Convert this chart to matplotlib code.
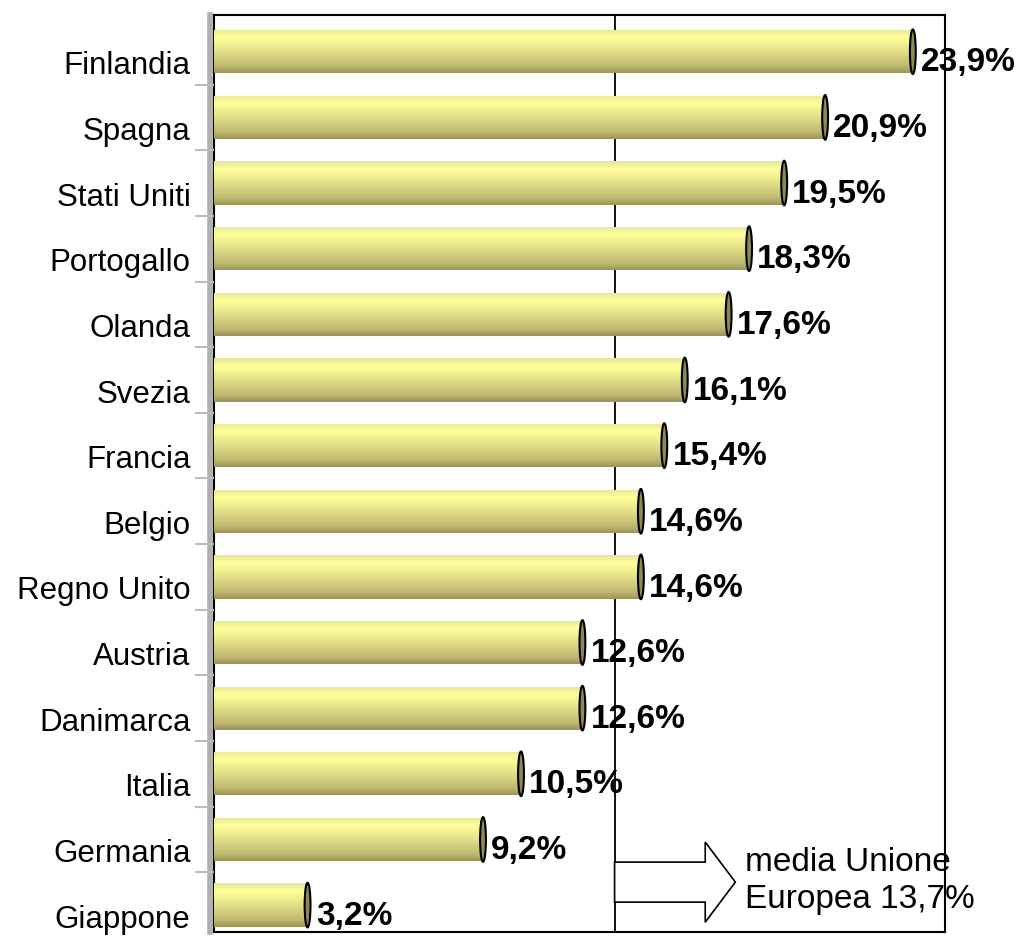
import numpy as np
import matplotlib
matplotlib.use("Agg")
import matplotlib.pyplot as plt
import matplotlib.patches as mpatches
from matplotlib.colors import LinearSegmentedColormap
from matplotlib.transforms import ScaledTranslation

plt.rcParams['font.family'] = ['Liberation Sans', 'DejaVu Sans']

countries = ["Finlandia", "Spagna", "Stati Uniti", "Portogallo", "Olanda", "Svezia",
             "Francia", "Belgio", "Regno Unito", "Austria", "Danimarca", "Italia",
             "Germania", "Giappone"]
values = [23.9, 20.9, 19.5, 18.3, 17.6, 16.1, 15.4, 14.6, 14.6, 12.6, 12.6, 10.5, 9.2, 3.2]
eu_avg = 13.7

# bottom-to-top order for barh
countries = countries[::-1]
values = values[::-1]
ypos = np.arange(len(values))
bar_h = 0.66

fig = plt.figure(figsize=(10.2, 9.4), dpi=100)
ax = fig.add_axes([214 / 1020, 1 - 932 / 940, (945 - 214) / 1020, (932 - 15) / 940])

# cylinder-like shading, top to bottom
shade = LinearSegmentedColormap.from_list("cyl", [
    (0.0, (0.90, 0.90, 0.62)),
    (0.18, (1.0, 1.0, 0.60)),
    (0.5, (0.89, 0.88, 0.54)),
    (0.85, (0.75, 0.72, 0.44)),
    (1.0, (0.62, 0.58, 0.36)),
])
grad = np.linspace(0, 1, 64).reshape(-1, 1)

bars = ax.barh(ypos, values, height=bar_h, color='none', edgecolor='none', zorder=2)
for b, v, y in zip(bars, values, ypos):
    im = ax.imshow(grad, cmap=shade, aspect='auto', zorder=2,
                   extent=[0, v, y - bar_h / 2, y + bar_h / 2], origin='upper')
    im.set_clip_path(b)
    cap = mpatches.Ellipse((v, y), 0.2, bar_h * 1.03, facecolor='#8c8a50',
                           edgecolor='black', lw=1.5, zorder=3)
    ax.add_patch(cap)
    lab = f"{v:.1f}".replace('.', ',') + '%'
    ax.text(v + 0.28, y - 0.17, lab, fontsize=24, fontweight='bold',
            va='center', ha='left', zorder=5)

ax.axvline(eu_avg, color='black', lw=1.3, zorder=1)

ax.set_xlim(0, 25)
ax.set_ylim(-0.41, 13.56)

ax.set_yticks(ypos)
ax.set_yticklabels(countries, fontsize=22.5)
ax.tick_params(axis='y', which='major', length=0, pad=17)
ax.set_yticks(ypos[:-1] + 0.5, minor=True)
ax.tick_params(axis='y', which='minor', length=14, width=1.5, color='#bbbbbb')
ax.set_xticks([])
for lbl in ax.get_yticklabels():
    lbl.set_transform(lbl.get_transform() + ScaledTranslation(0, -8 / 72, fig.dpi_scale_trans))

for s in ax.spines.values():
    s.set_linewidth(1.5)
    s.set_zorder(1)
ax.plot([-0.006, -0.006], [0, 1], transform=ax.transAxes, color='#b0b0b0',
        lw=4, clip_on=False, zorder=1)

# EU average arrow and note
arrow = mpatches.FancyArrow(eu_avg, 0.35, 17.83 - eu_avg, 0, width=0.61, head_width=1.22,
                            head_length=1.03, length_includes_head=True,
                            facecolor='white', edgecolor='black', lw=1.2, zorder=4,
                            clip_on=False)
ax.add_patch(arrow)
ax.text(18.16, 0.37, "media Unione\nEuropea 13,7%", fontsize=24, va='center',
        ha='left', zorder=5, linespacing=1.25)

fig.savefig("out.png", dpi=100)
